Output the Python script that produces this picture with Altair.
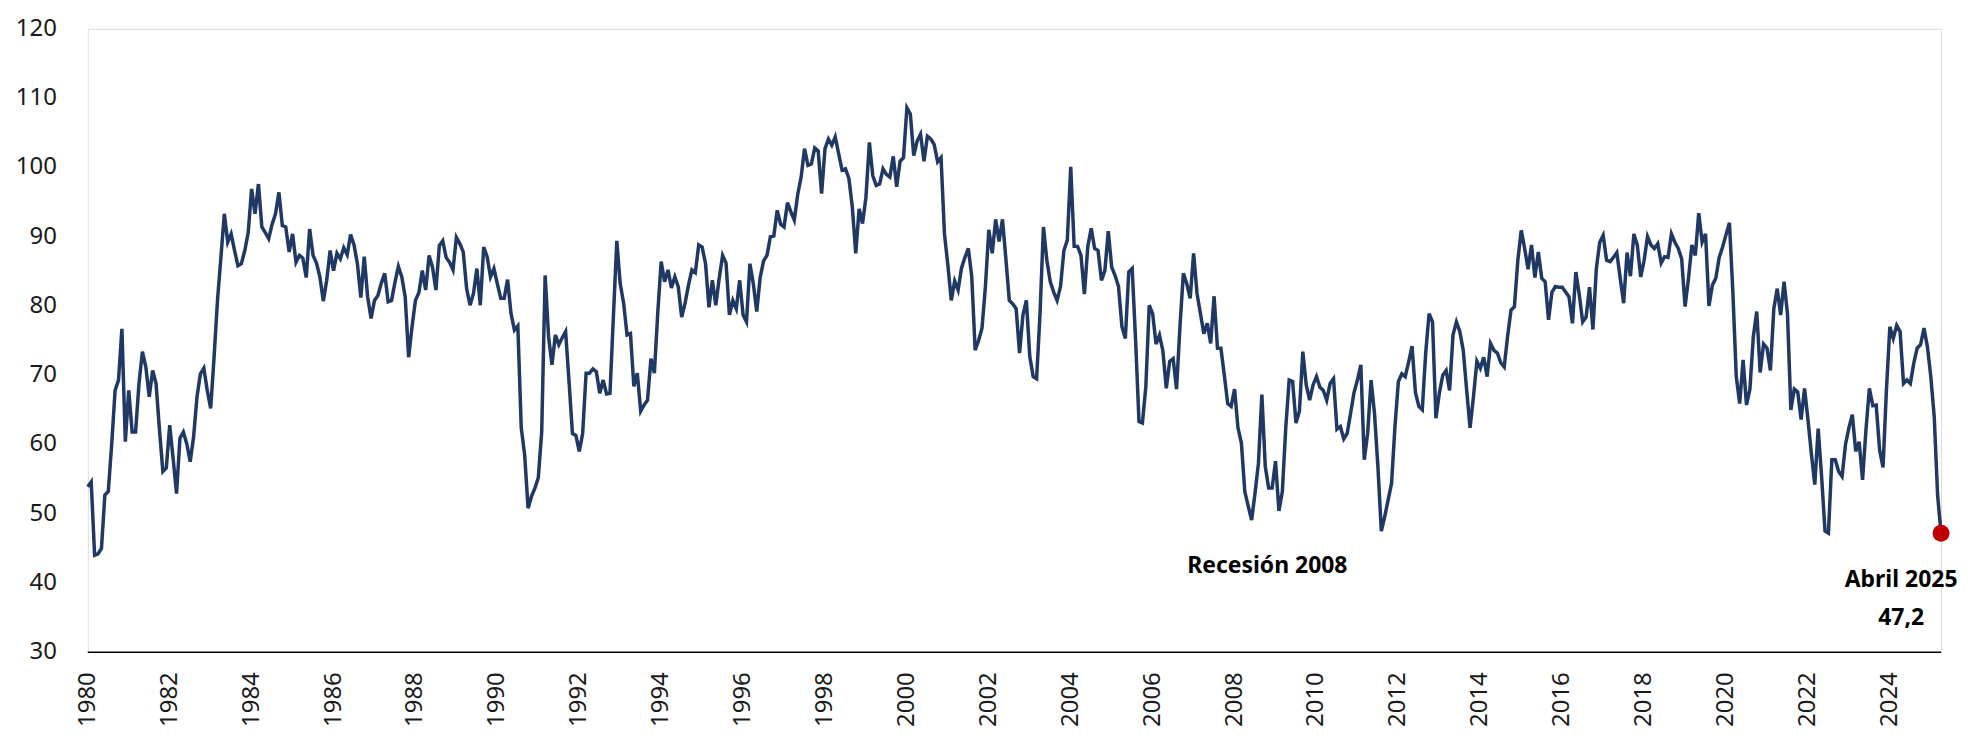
import altair as alt
import pandas as pd

start_year = 1980

# Monthly index values (Jan 1980 .. Apr 2025)
vals_1980s = [
    53.9, 54.6, 44.0, 44.2, 45.0, 52.7, 53.2, 60.0, 67.8, 69.3, 76.7, 60.4,
    67.8, 61.8, 61.8, 68.8, 73.4, 71.2, 66.9, 70.7, 68.8, 62.1, 56.1, 56.6,
    62.8, 58.0, 52.9, 60.9, 61.8, 60.1, 57.5, 61.1, 66.9, 70.2, 71.0, 67.8,
    65.2, 72.6, 80.8, 87.0, 93.3, 89.2, 90.4, 88.0, 85.8, 86.1, 88.0, 90.6,
    96.9, 93.3, 97.6, 91.4, 90.6, 89.7, 91.8, 93.3, 96.4, 91.6, 91.4, 87.8,
    90.4, 86.3, 87.3, 86.9, 84.1, 91.1, 87.3, 86.2, 84.2, 80.7, 83.7, 88.0,
    85.1, 87.6, 86.8, 88.4, 87.4, 90.3, 88.8, 86.1, 81.2, 87.1, 81.3, 78.2,
    80.8, 81.5, 83.3, 84.7, 80.6, 80.8, 83.4, 85.7, 84.2, 81.3, 72.6, 77.0,
    80.8, 81.9, 85.1, 82.3, 87.3, 85.6, 82.3, 88.7, 89.4, 87.0, 86.3, 85.2,
    89.9, 89.0, 87.8, 82.5, 80.1, 81.8, 85.4, 80.1, 88.5, 87.1, 84.2, 85.4,
]
vals_1990s = [
    83.2, 81.1, 81.1, 83.8, 78.9, 76.5, 77.1, 62.4, 58.5, 50.8, 52.5, 53.7,
    55.2, 61.9, 84.4, 75.6, 71.5, 75.8, 74.4, 75.4, 76.3, 69.1, 61.6, 61.3,
    59.0, 61.6, 70.3, 70.3, 70.9, 70.5, 67.4, 69.3, 67.3, 67.4, 78.5, 89.4,
    83.2, 80.4, 75.8, 76.0, 68.4, 70.3, 64.8, 65.7, 66.4, 72.4, 70.3, 79.0,
    86.4, 83.5, 85.2, 82.6, 84.2, 82.8, 78.4, 80.4, 83.0, 85.2, 84.8, 88.8,
    88.5, 86.1, 79.8, 83.7, 80.1, 84.0, 87.3, 86.2, 78.7, 80.8, 79.6, 83.7,
    78.7, 77.7, 86.1, 83.2, 79.2, 84.1, 86.5, 87.3, 90.0, 90.1, 93.8, 91.8,
    91.4, 94.9, 93.6, 92.4, 96.1, 98.6, 102.7, 100.3, 100.5, 102.8, 102.4, 96.2,
    102.7, 104.1, 103.2, 104.4, 102.0, 99.6, 99.8, 98.4, 94.3, 87.6, 94.0, 91.9,
    95.7, 103.6, 98.8, 97.4, 97.6, 99.8, 99.0, 98.6, 101.6, 97.2, 100.9, 101.4,
]
vals_2000s = [
    108.6, 107.7, 101.7, 103.8, 104.8, 100.9, 104.5, 104.1, 103.3, 100.8, 101.4, 90.4,
    85.9, 80.8, 83.6, 82.3, 85.5, 87.0, 88.3, 84.2, 73.6, 75.0, 76.8, 82.8,
    91.0, 87.6, 92.5, 89.3, 92.5, 86.8, 80.8, 80.3, 79.6, 73.2, 78.7, 80.8,
    72.7, 69.8, 69.5, 78.9, 91.4, 86.6, 83.5, 82.0, 80.8, 82.8, 88.0, 89.5,
    100.1, 88.6, 88.6, 87.3, 81.7, 88.6, 91.2, 88.3, 88.0, 83.7, 85.1, 90.8,
    85.6, 84.4, 82.8, 77.0, 75.3, 84.9, 85.4, 75.1, 63.3, 63.1, 68.3, 80.1,
    78.9, 74.5, 75.8, 73.5, 68.1, 72.0, 72.4, 68.0, 77.0, 84.7, 83.2, 81.1,
    87.6, 81.8, 78.9, 76.0, 77.5, 74.6, 81.4, 73.9, 73.9, 70.0, 65.9, 65.5,
    68.0, 62.4, 60.2, 53.2, 51.1, 49.1, 53.0, 57.3, 67.2, 56.8, 53.7, 53.7,
    57.6, 50.4, 53.2, 62.4, 69.3, 69.1, 63.1, 64.8, 73.4, 68.6, 66.4, 68.6,
]
vals_2010s = [
    69.8, 68.3, 67.8, 66.4, 68.8, 69.5, 62.2, 62.6, 60.8, 61.6, 64.5, 67.5,
    69.3, 71.5, 57.8, 61.6, 69.3, 64.5, 56.8, 47.5, 49.6, 52.0, 54.4, 62.6,
    69.1, 70.2, 69.8, 71.9, 74.2, 67.5, 65.5, 65.0, 73.2, 78.9, 77.7, 63.8,
    67.4, 70.0, 70.7, 67.8, 75.8, 77.7, 76.3, 73.6, 67.9, 62.4, 66.9, 72.0,
    71.0, 72.6, 69.8, 74.6, 73.6, 73.2, 71.8, 71.2, 75.6, 79.4, 79.9, 86.6,
    90.9, 88.3, 85.3, 88.8, 84.1, 87.8, 84.0, 83.5, 78.0, 82.0, 82.8, 82.7,
    82.7, 82.0, 81.3, 77.5, 84.9, 81.6, 77.7, 78.4, 82.7, 76.6, 85.4, 89.2,
    90.2, 86.6, 86.4, 87.0, 87.7, 84.0, 80.4, 87.7, 84.3, 90.4, 88.8, 84.2,
    86.6, 90.0, 88.8, 88.3, 89.0, 86.2, 87.1, 87.0, 90.4, 89.2, 88.3, 86.8,
    79.9, 84.0, 88.8, 87.3, 93.4, 89.2, 90.4, 80.0, 83.0, 84.0, 87.0, 88.5,
]
vals_2020s = [
    90.3, 92.0, 82.0, 69.8, 65.9, 72.2, 65.7, 68.0, 75.6, 79.2, 70.4, 74.5,
    73.9, 70.7, 79.6, 82.5, 78.7, 83.5, 78.9, 65.0, 68.0, 67.6, 63.6, 68.1,
    63.6, 58.7, 54.2, 62.3, 55.4, 47.5, 47.2, 57.8, 57.8, 56.1, 55.4, 60.0,
    62.4, 64.3, 59.0, 60.4, 54.9, 62.1, 68.1, 65.6, 65.7, 59.2, 56.7, 67.9,
    77.0, 75.3, 77.2, 76.3, 68.8, 69.3, 68.8, 71.7, 73.9, 74.4, 76.8, 74.1,
    69.8, 64.0, 52.6, 47.2,
]

label_years = list(range(1980, 2025, 2))
y_ticks = list(range(30, 121, 10))
y_min, y_max = 30, 120

values = vals_1980s + vals_1990s + vals_2000s + vals_2010s + vals_2020s
n = len(values)
df = pd.DataFrame({"t": list(range(n)), "v": values})
last = df.tail(1)

ann = pd.DataFrame({
    "t": [345.6, 531.3, 531.3],
    "v": [41.5, 39.4, 34.0],
    "label": ["Recesión 2008", "Abril 2025", "47,2"],
})
xlab = pd.DataFrame({
    "t": [(y - start_year) * 12 for y in label_years],
    "v": [y_min] * len(label_years),
    "label": [str(y) for y in label_years],
})
ylab = pd.DataFrame({
    "t": [0] * len(y_ticks),
    "v": y_ticks,
    "label": [str(v) for v in y_ticks],
})

FONT = "Noto Sans"
LABEL_COLOR = "#1a1a1a"

X = alt.X("t:Q", scale=alt.Scale(domain=[0, n - 1], nice=False, zero=False), axis=None)
Y = alt.Y("v:Q", scale=alt.Scale(domain=[y_min, y_max], nice=False, zero=False), axis=None)

line = alt.Chart(df).mark_line(color="#1F3864", strokeWidth=3.5).encode(x=X, y=Y)

baseline = alt.Chart(pd.DataFrame({"v": [y_min]})).mark_rule(
    color="#000000", strokeWidth=1.6
).encode(y=Y)

dot = alt.Chart(last).mark_circle(color="#C00000", size=290, opacity=1).encode(x=X, y=Y)

texts = alt.Chart(ann).mark_text(
    font=FONT, fontSize=23, fontWeight="bold", color="#000000",
    align="center", baseline="alphabetic",
).encode(x=X, y=Y, text="label:N")

x_labels = alt.Chart(xlab).mark_text(
    font=FONT, fontSize=24, color=LABEL_COLOR, angle=270,
    align="right", baseline="middle", yOffset=20,
).encode(x=X, y=Y, text="label:N")

y_labels = alt.Chart(ylab).mark_text(
    font=FONT, fontSize=24, color=LABEL_COLOR,
    align="right", baseline="middle", xOffset=-31,
).encode(x=X, y=Y, text="label:N")

chart = (
    alt.layer(baseline, line, dot, texts, x_labels, y_labels)
    .properties(
        width=1858,
        height=625,
        autosize=alt.AutoSizeParams(type="none"),
        padding={"left": 80, "top": 20, "right": 20, "bottom": 80},
    )
    .configure_view(strokeWidth=0, stroke="transparent", fill="#FEFEFE")
    .configure(background="white")
)

chart.save("out.html", embed_options={"renderer": "svg", "actions": False})
